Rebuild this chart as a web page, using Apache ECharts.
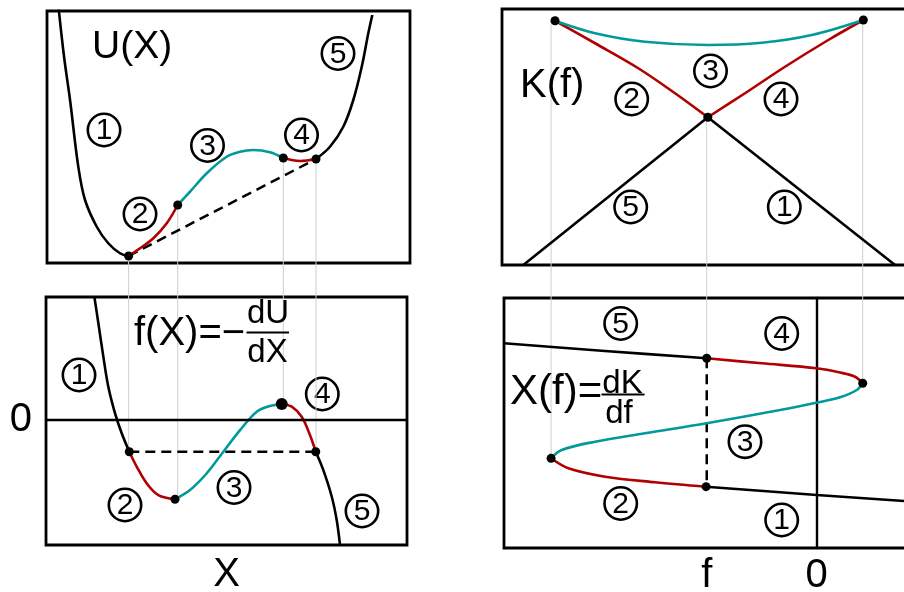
<!DOCTYPE html>
<html>
<head>
<meta charset="utf-8">
<script src="https://cdn.jsdelivr.net/npm/echarts@6/dist/echarts.min.js"></script>
<style>
  html, body { margin: 0; padding: 0; background: #fff; }
  #c { width: 904px; height: 592px; }
</style>
</head>
<body>
<div id="c"></div>
<script>
// Potential U(X), one array per branch (phases 1..5)
const uBranch1 = [[-1.75,10.3],[-1.689,8.25],[-1.625,6.52],[-1.537,3.85],[-1.465,2.52],[-1.34,1.45],[-1.217,0.79],[-1.092,0.39],[-1.0,0.28]];
const uBranch2 = [[-1.0,0.28],[-0.878,0.59],[-0.736,0.99],[-0.593,1.59],[-0.476,2.32]];
const uBranch3 = [[-0.476,2.32],[-0.345,2.85],[-0.166,3.59],[0.047,4.25],[0.189,4.45],[0.331,4.52],[0.509,4.43],[0.651,4.2]];
const uBranch4 = [[0.651,4.2],[0.829,4.08],[1.0,4.16]];
const uBranch5 = [[1.0,4.16],[1.149,4.65],[1.291,5.45],[1.398,6.52],[1.488,7.85],[1.558,9.19],[1.601,9.92]];
const uTangent = [[-1.0,0.28],[1.0,4.16]];
const uDots = [[-1.0,0.28],[-0.476,2.32],[0.651,4.2],[1.0,4.16]];

// Force f(X) = -dU/dX
const fBranch1 = [[-1.366,3.89],[-1.323,3.05],[-1.27,2.0],[-1.217,1.05],[-1.145,0.21],[-1.074,-0.42],[-0.993,-1.0]];
const fBranch2 = [[-0.993,-1.0],[-0.914,-1.47],[-0.807,-2.0],[-0.683,-2.37],[-0.505,-2.5]];
const fBranch3 = [[-0.505,-2.5],[-0.345,-2.21],[-0.166,-1.68],[0.011,-1.0],[0.189,-0.32],[0.367,0.26],[0.509,0.44],[0.634,0.505]];
const fBranch4 = [[0.634,0.505],[0.741,0.42],[0.847,0.1],[0.928,-0.42],[0.997,-1.0]];
const fBranch5 = [[0.997,-1.0],[1.078,-1.58],[1.168,-2.42],[1.221,-3.16],[1.256,-3.94]];
const fCoexist = [[-0.993,-1.0],[0.997,-1.0]];
const fDots = [[-0.993,-1.0],[-0.505,-2.5],[0.997,-1.0]];
const fPeak = [[0.634,0.505]];
// f value reached at each marked point of U(X)
const fAtUDots = [-1.0,-2.5,0.505,-1.0];

// Legendre transform K(f)
const kBranch1 = [[-0.99,5.91],[0.712,0]];
const kBranch2 = [[-2.379,9.77],[-2.015,8.87],[-1.622,7.87],[-1.288,6.87],[-0.99,5.91]];
const kBranch3 = [[-2.379,9.77],[-2.015,9.27],[-1.561,8.93],[-0.985,8.8],[-0.5,8.89],[-0.045,9.2],[0.424,9.8]];
const kBranch4 = [[-0.99,5.91],[-0.652,6.87],[-0.288,7.93],[0.105,9.0],[0.424,9.8]];
const kBranch5 = [[-0.99,5.91],[-2.667,0]];
const kDots = [[-2.379,9.77],[0.424,9.8],[-0.99,5.91]];

// Extension X(f) = dK/df
const xfBranch1 = [[-1.006,-1.0],[0,-1.129],[0.794,-1.223],[1.06,-1.25]];
const xfBranch2 = [[-2.415,-0.558],[-2.258,-0.713],[-1.925,-0.844],[-1.47,-0.931],[-1.006,-1.0]];
const xfBranch3 = [[0.418,0.611],[0.364,0.506],[0.212,0.393],[-0.006,0.308],[-0.334,0.195],[-1.0,-0.012],[-1.561,-0.168],[-2.015,-0.299],[-2.318,-0.428],[-2.415,-0.558]];
const xfBranch4 = [[-1.0,1.0],[-0.5,0.922],[0,0.844],[0.212,0.778],[0.348,0.713],[0.418,0.611]];
const xfBranch5 = [[-2.843,1.234],[-1.925,1.114],[-1.0,1.0]];
const xfCoexist = [[-1.0,1.0],[-1.0,-1.0]];
const xfDots = [[-1.0,1.0],[0.418,0.611],[-2.415,-0.558],[-1.006,-1.0]];
// guide lines between K(f) and X(f): f, K at top, X at bottom
const fGuides = [-2.415,-1.0,0.418];
const kAtGuides = [9.77,5.91,9.8];
const xAtGuides = [-0.558,1.0,0.611];

// axis tick labels
const fTickValues = [-1, 0];
const fTickNames = ['f', '0'];

const FONT = 'Liberation Sans, Arial, Helvetica, sans-serif';
const BLACK = '#000', RED = '#b00000', TEAL = '#009a9a', GUIDE = '#cfcfcf';
const LW = 2.6;

const chart = echarts.init(document.getElementById('c'), null, { renderer: 'canvas' });

function curve(gi, data, color, extra) {
  return Object.assign({
    type: 'line', xAxisIndex: gi, yAxisIndex: gi, data: data,
    smooth: 0.35, symbol: 'none', silent: true, z: 3,
    lineStyle: { color: color, width: LW }
  }, extra || {});
}
function dashed(gi, data) {
  return { type: 'line', xAxisIndex: gi, yAxisIndex: gi, data: data, symbol: 'none', silent: true, z: 2,
    lineStyle: { color: BLACK, width: 2.5, type: [10, 6] } };
}
function dots(gi, data, size) {
  return { type: 'scatter', xAxisIndex: gi, yAxisIndex: gi, data: data, symbolSize: size || 9,
    itemStyle: { color: BLACK, opacity: 1 }, silent: true, z: 6 };
}
function bareAxis(gi, min, max, extra) {
  return Object.assign({
    type: 'value', gridIndex: gi, min: min, max: max,
    axisLine: { show: false, onZero: false }, axisTick: { show: false },
    axisLabel: { show: false }, splitLine: { show: false }
  }, extra || {});
}
const boxStyle = { show: true, borderColor: BLACK, borderWidth: 2.8, backgroundColor: 'transparent', outerBoundsMode: 'none' };

chart.setOption({
  animation: false,
  backgroundColor: '#fff',
  textStyle: { fontFamily: FONT },
  grid: [
    Object.assign({ left: 47, top: 11, width: 363, height: 252 }, boxStyle),
    Object.assign({ left: 46, top: 297, width: 361, height: 248 }, boxStyle),
    Object.assign({ left: 502, top: 9, width: 440, height: 256 }, boxStyle),
    Object.assign({ left: 504, top: 298, width: 440, height: 250 }, boxStyle)
  ],
  xAxis: [
    bareAxis(0, -1.871, 2.003),
    bareAxis(1, -1.882, 1.971, {
      name: 'X', nameLocation: 'middle', nameGap: 10,
      nameTextStyle: { fontSize: 40, color: BLACK, fontFamily: FONT }
    }),
    bareAxis(2, -2.861, 1.139),
    bareAxis(3, -2.843, 1.157, {
      axisLabel: { show: true, customValues: fTickValues, margin: 8,
        formatter: function (v) { return fTickNames[fTickValues.indexOf(v)]; },
        fontSize: 40, color: BLACK, fontFamily: FONT }
    })
  ],
  yAxis: [
    bareAxis(0, 0, 10.08),
    bareAxis(1, -3.943, 3.88, {
      axisLabel: { show: true, customValues: [0], margin: 14,
        formatter: function () { return '0'; }, fontSize: 40, color: BLACK, fontFamily: FONT }
    }),
    bareAxis(2, 0, 10.24),
    bareAxis(3, -1.955, 1.939, {
      axisLine: { show: true, onZero: true, lineStyle: { color: BLACK, width: 2.4 } }
    })
  ],
  series: [
    curve(0, uBranch1, BLACK), curve(0, uBranch2, RED), curve(0, uBranch3, TEAL),
    curve(0, uBranch4, RED), curve(0, uBranch5, BLACK),
    dashed(0, uTangent), dots(0, uDots),

    curve(1, fBranch1, BLACK, {
      markLine: { silent: true, symbol: 'none', label: { show: false },
        lineStyle: { color: BLACK, width: 2.4, type: 'solid' }, data: [{ yAxis: 0 }] }
    }),
    curve(1, fBranch2, RED), curve(1, fBranch3, TEAL), curve(1, fBranch4, RED), curve(1, fBranch5, BLACK),
    dashed(1, fCoexist), dots(1, fDots), dots(1, fPeak, 12),

    curve(2, kBranch1, BLACK, { smooth: false }), curve(2, kBranch5, BLACK, { smooth: false }),
    curve(2, kBranch2, RED), curve(2, kBranch4, RED), curve(2, kBranch3, TEAL),
    dots(2, kDots),

    curve(3, xfBranch1, BLACK), curve(3, xfBranch2, RED), curve(3, xfBranch3, TEAL),
    curve(3, xfBranch4, RED), curve(3, xfBranch5, BLACK),
    dashed(3, xfCoexist), dots(3, xfDots)
  ]
});

// vertical guide lines linking matching points of stacked panels
const guides = [];
uDots.forEach(function (p, i) {
  const a = chart.convertToPixel({ gridIndex: 0 }, p);
  const b = chart.convertToPixel({ gridIndex: 1 }, [p[0], fAtUDots[i]]);
  guides.push([a[0], a[1], b[1]]);
});
fGuides.forEach(function (f, i) {
  const a = chart.convertToPixel({ gridIndex: 2 }, [f, kAtGuides[i]]);
  const b = chart.convertToPixel({ gridIndex: 3 }, [f, xAtGuides[i]]);
  guides.push([b[0], a[1], b[1]]);
});

const graphics = guides.map(function (g) {
  return { type: 'line', silent: true, z: 1,
    shape: { x1: g[0], y1: g[1], x2: g[0], y2: g[2] },
    style: { stroke: GUIDE, lineWidth: 1 } };
});

function text(str, x, y, size, align) {
  return { type: 'text', x: x, y: y, z: 20, silent: true,
    style: { text: str, fill: BLACK, font: size + 'px ' + FONT, align: align || 'left', verticalAlign: 'middle' } };
}
function bar(x1, x2, y) {
  return { type: 'line', z: 20, silent: true, shape: { x1: x1, y1: y, x2: x2, y2: y },
    style: { stroke: BLACK, lineWidth: 2.2 } };
}
function circled(n, cx, cy) {
  return { type: 'group', z: 20, silent: true, children: [
    { type: 'circle', shape: { cx: cx, cy: cy, r: 16.2 }, style: { fill: '#fff', fillOpacity: 0, stroke: BLACK, lineWidth: 2.6 } },
    { type: 'text', x: cx, y: cy + 1, style: { text: String(n), fill: BLACK, font: '30px ' + FONT, align: 'center', verticalAlign: 'middle' } }
  ] };
}

graphics.push(
  text('U(X)', 92, 47, 39),
  text('K(f)', 520, 86, 40),
  text('f(X)=\u2212', 134, 334, 40),
  text('dU', 268, 314, 33, 'center'), bar(246.5, 289, 332.5), text('dX', 267.5, 353, 33, 'center'),
  text('X(f)=', 510, 392, 42),
  text('dK', 622.5, 384, 33, 'center'), bar(601.5, 644.5, 394.5), text('df', 619, 414, 33, 'center'),

  circled(1, 104, 130), circled(2, 140, 214), circled(3, 207.5, 145.5), circled(4, 301.5, 135), circled(5, 338, 53.5),
  circled(1, 79, 375), circled(2, 125, 505), circled(3, 234, 487.5), circled(4, 322.3, 394), circled(5, 362, 511),
  circled(3, 710.5, 71), circled(2, 631.7, 99), circled(4, 781, 99), circled(5, 630.7, 207), circled(1, 784.3, 207),
  circled(5, 620.7, 323.5), circled(4, 781.7, 333.5), circled(3, 745, 441.7), circled(2, 620.7, 503.5), circled(1, 781.7, 520)
);

chart.setOption({ graphic: graphics });
</script>
</body>
</html>
